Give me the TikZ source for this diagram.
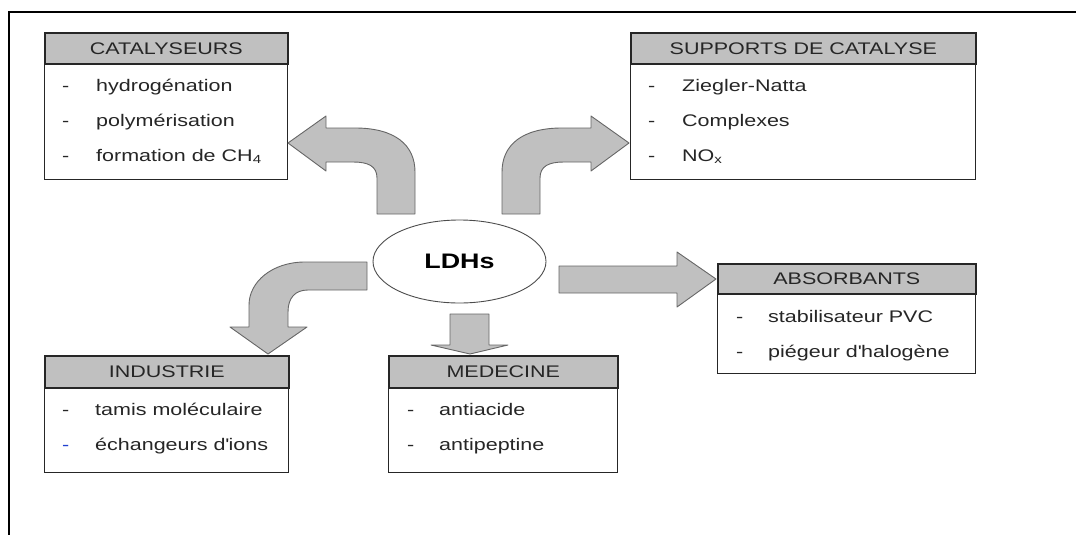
\documentclass[tikz,border=0pt]{standalone}
\usepackage{fontspec}
\setmainfont{Liberation Sans}[FakeStretch=1.28]
\usetikzlibrary{shapes.geometric}
\definecolor{headgray}{HTML}{C0C0C0}
\definecolor{arrowgray}{HTML}{C0C0C0}
\definecolor{boxline}{HTML}{262626}
\definecolor{dashblue}{HTML}{2040D0}
\newcommand{\itemfont}{\fontsize{16.8}{20}\selectfont}

\tikzset{
  boxbody/.style={draw=boxline, line width=1.3pt, fill=white, anchor=north west, inner sep=0pt},
  boxhead/.style={draw=boxline, line width=1.6pt, fill=headgray, anchor=north west, inner sep=0pt, font=\itemfont, text=black!85},
  dashtext/.style={font=\itemfont, text=black!85, anchor=base west, inner sep=0pt},
  itemtext/.style={font=\itemfont, text=black!85, anchor=base west, inner sep=0pt},
  fatarrow/.style={draw=black!60, fill=arrowgray, line width=0.9pt, line join=round},
}

\begin{document}
\begin{tikzpicture}[x=1pt, y=-1pt]
	\useasboundingbox (0,0) rectangle (1076,535);
	%%%frame
	\draw[line width=2pt] (9,535) -- (9,12) -- (1076,12);
	%%%centre
	\node[draw=black!70, line width=0.9pt, ellipse, minimum width=173pt, minimum height=83pt, inner sep=0pt, font=\fontsize{21}{24}\selectfont\bfseries] (ldhs) at (459.5,261.5) {LDHs};
	%%%boxes
	%catalyseurs
	\node[boxbody, minimum width=243pt, minimum height=147pt] (catbox) at (44,32) {};
	\node[boxhead, minimum width=243pt, minimum height=31pt] (cathead) at (catbox.north west) {CATALYSEURS};
	\node[dashtext] (cat1d) at (62,92) {-};
	\node[itemtext] (cat1) at (96,92) {hydrogénation};
	\node[dashtext] (cat2d) at (62,126.5) {-};
	\node[itemtext] (cat2) at (96,126.5) {polymérisation};
	\node[dashtext] (cat3d) at (62,161) {-};
	\node[itemtext] (cat3) at (96,161) {formation de CH\textsubscript{4}};
	%supports de catalyse
	\node[boxbody, minimum width=345pt, minimum height=147pt] (supbox) at (630,32) {};
	\node[boxhead, minimum width=345pt, minimum height=31pt] (suphead) at (supbox.north west) {SUPPORTS DE CATALYSE};
	\node[dashtext] (sup1d) at (648,92) {-};
	\node[itemtext] (sup1) at (682,92) {Ziegler-Natta};
	\node[dashtext] (sup2d) at (648,126.5) {-};
	\node[itemtext] (sup2) at (682,126.5) {Complexes};
	\node[dashtext] (sup3d) at (648,161) {-};
	\node[itemtext] (sup3) at (682,161) {NO\textsubscript{x}};
	%absorbants
	\node[boxbody, minimum width=258pt, minimum height=110pt] (absbox) at (717,263) {};
	\node[boxhead, minimum width=258pt, minimum height=30pt] (abshead) at (absbox.north west) {ABSORBANTS};
	\node[dashtext] (abs1d) at (736,322) {-};
	\node[itemtext] (abs1) at (768,322) {stabilisateur PVC};
	\node[dashtext] (abs2d) at (736,357) {-};
	\node[itemtext] (abs2) at (768,357) {piégeur d\textquotesingle halogène};
	%industrie
	\node[boxbody, minimum width=244pt, minimum height=117pt] (indbox) at (44,355) {};
	\node[boxhead, minimum width=244pt, minimum height=32pt] (indhead) at (indbox.north west) {INDUSTRIE};
	\node[dashtext] (ind1d) at (62,415) {-};
	\node[itemtext] (ind1) at (95,415) {tamis moléculaire};
	\node[dashtext, text=dashblue] (ind2d) at (62,450) {-};
	\node[itemtext] (ind2) at (95,450) {échangeurs d\textquotesingle ions};
	%medecine
	\node[boxbody, minimum width=229pt, minimum height=117pt] (medbox) at (388,355) {};
	\node[boxhead, minimum width=229pt, minimum height=32pt] (medhead) at (medbox.north west) {MEDECINE};
	\node[dashtext] (med1d) at (407,415) {-};
	\node[itemtext] (med1) at (439,415) {antiacide};
	\node[dashtext] (med2d) at (407,450) {-};
	\node[itemtext] (med2) at (439,450) {antipeptine};
	%%%arrows
	%to catalyseurs
	\draw[fatarrow] (288,143) -- (326,116) -- (326,128) -- (355,128) .. controls (395,128) and (415,145) .. (415,172) -- (415,214) -- (377,214) -- (377,178) .. controls (377,166) and (368,162) .. (353,162) -- (326,162) -- (326,171) -- cycle;
	%to supports
	\draw[fatarrow] (629,143) -- (591,116) -- (591,128) -- (562,128) .. controls (522,128) and (502,145) .. (502,172) -- (502,214) -- (540,214) -- (540,178) .. controls (540,166) and (549,162) .. (564,162) -- (591,162) -- (591,171) -- cycle;
	%to absorbants
	\draw[fatarrow] (559,266) -- (677,266) -- (677,252) -- (716,279) -- (677,307) -- (677,293) -- (559,293) -- cycle;
	%to industrie
	\draw[fatarrow] (367,262) -- (305,262) .. controls (272,262) and (249,282) .. (249,305) -- (249,327) -- (230,327) -- (268,354) -- (307,327) -- (288,327) -- (288,312) .. controls (288,298) and (295,290) .. (308,290) -- (367,290) -- cycle;
	%to medecine
	\draw[fatarrow] (450,314) -- (489,314) -- (489,345) -- (508,345) -- (470,354) -- (431,345) -- (450,345) -- cycle;
\end{tikzpicture}
\end{document}
